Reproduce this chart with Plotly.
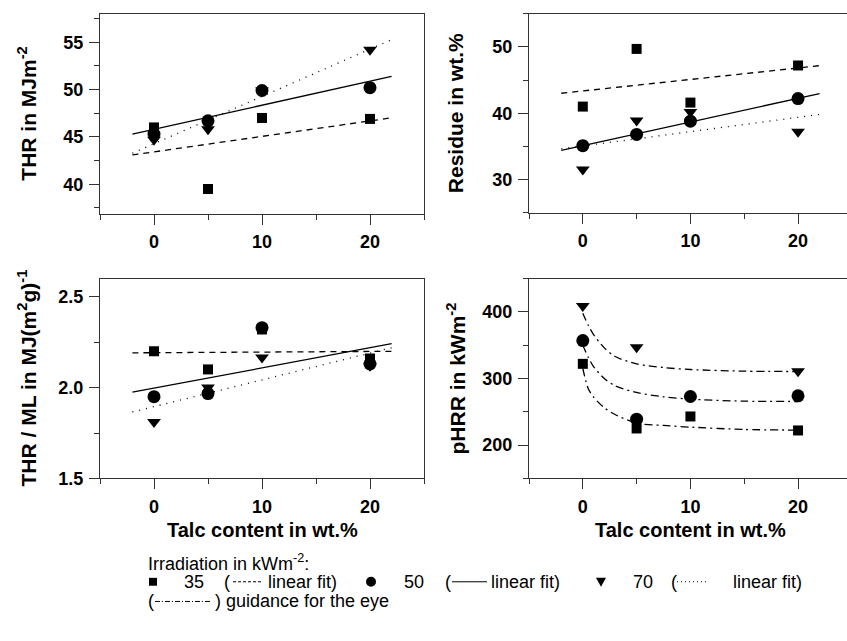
import numpy as np
import plotly.graph_objects as go

W, H = 847, 641

# ---------------- data ----------------
talc = [0, 5, 10, 20]

thr_35 = [46.0, 39.5, 47.0, 46.9]
thr_50 = [45.3, 46.7, 49.9, 50.2]
thr_70 = [44.7, 45.8, 49.9, 54.2]

res_35 = [41.0, 49.7, 41.6, 47.2]
res_50 = [35.1, 36.8, 38.8, 42.2]
res_70 = [31.5, 38.9, 40.2, 37.2]

ml_35 = [2.20, 2.10, 2.32, 2.16]
ml_50 = [1.95, 1.967, 2.33, 2.13]
ml_70 = [1.81, 2.00, 2.166, 2.12]

phrr_35 = [322, 225, 243, 222]
phrr_50 = [357, 239, 273, 274]
phrr_70 = [409, 347, None, 311]

# guidance-for-the-eye curves
guide_x = [0, 0.5, 1, 2, 3, 5, 7.5, 10, 15, 20]
guide_35 = [315, 285, 272, 256, 246, 233, 229.5, 227, 223.5, 222.5]
guide_50 = [350, 332, 318, 300, 289, 279, 272.5, 269, 266, 265.5]
guide_70 = [398, 380, 366, 346, 333, 322, 316.5, 313.5, 311, 310.5]

fit_x = [-2, 22]

# ---------------- layout helpers ----------------
def px_x(p):
    return p / W

def px_y(p):
    return 1 - p / H

panels = {
    1: dict(x0=100, x1=424, y0=14, y1=217, xr=[-5, 25], yr=[36.9, 58.0], dy=5, mdy=2.5, ymirror=True),
    2: dict(x0=529, x1=847, y0=14, y1=216, xr=[-5, 24.55], yr=[25, 55], dy=10, mdy=5, ymirror=False),
    3: dict(x0=100, x1=424, y0=283, y1=486, xr=[-5, 25], yr=[1.5, 2.6], dy=0.5, mdy=0.25, ymirror=True),
    4: dict(x0=529, x1=847, y0=283, y1=486, xr=[-5, 24.55], yr=[150, 450], dy=100, mdy=50, ymirror=False),
}

fig = go.Figure()
AX = "#333333"
tickfont = dict(family="Liberation Sans, Arial, sans-serif", size=18, color="black", weight="bold")

for k, p in panels.items():
    xa = "xaxis" if k == 1 else f"xaxis{k}"
    ya = "yaxis" if k == 1 else f"yaxis{k}"
    fig.layout[xa] = dict(
        domain=[px_x(p["x0"]), px_x(p["x1"])], range=p["xr"], anchor=f"y{'' if k == 1 else k}",
        showgrid=False, zeroline=False, showline=True, linecolor=AX, linewidth=1, mirror=True,
        ticks="outside", ticklen=10, tickcolor=AX, tickwidth=1, tick0=0, dtick=10,
        tickfont=tickfont, ticklabelstandoff=2,
        minor=dict(ticks="outside", ticklen=5, tickcolor=AX, dtick=5, tick0=0, showgrid=False),
    )
    fig.layout[ya] = dict(
        domain=[px_y(p["y1"]), px_y(p["y0"])], range=p["yr"], anchor=f"x{'' if k == 1 else k}",
        showgrid=False, zeroline=False, showline=True, linecolor=AX, linewidth=1, mirror=p["ymirror"],
        ticks="outside", ticklen=10, tickcolor=AX, tickwidth=1, tick0=0, dtick=p["dy"],
        tickfont=tickfont, ticklabelstandoff=2,
        minor=dict(ticks="outside", ticklen=5, tickcolor=AX, dtick=p["mdy"], tick0=0, showgrid=False),
    )
fig.layout.yaxis3.tickformat = ".1f"

sym = {"35": ("square", 10), "50": ("circle", 13), "70": ("triangle-down", 12)}
dash = {"35": "6px,5px", "50": "solid", "70": "1px,6px"}

def add_points(k, series):
    xs = "x" if k == 1 else f"x{k}"
    ys = "y" if k == 1 else f"y{k}"
    for name in ["70", "35", "50"]:
        vals = series[name]
        s, sz = sym[name]
        fig.add_trace(go.Scatter(x=talc, y=vals, mode="markers", xaxis=xs, yaxis=ys,
                                 marker=dict(symbol=s, size=sz, color="black", line=dict(width=0)),
                                 showlegend=False, cliponaxis=False))

def add_fits(k, series):
    xs = "x" if k == 1 else f"x{k}"
    ys = "y" if k == 1 else f"y{k}"
    for name in ["35", "50", "70"]:
        m, b = np.polyfit(talc, series[name], 1)
        fy = [m * v + b for v in fit_x]
        fig.add_trace(go.Scatter(x=fit_x, y=fy, mode="lines", xaxis=xs, yaxis=ys,
                                 line=dict(color="black", width=1.3, dash=dash[name]),
                                 showlegend=False))

s1 = {"35": thr_35, "50": thr_50, "70": thr_70}
s2 = {"35": res_35, "50": res_50, "70": res_70}
s3 = {"35": ml_35, "50": ml_50, "70": ml_70}
s4 = {"35": phrr_35, "50": phrr_50, "70": phrr_70}

add_fits(1, s1); add_points(1, s1)
add_fits(2, s2); add_points(2, s2)
add_fits(3, s3); add_points(3, s3)
for g in [guide_35, guide_50, guide_70]:
    fig.add_trace(go.Scatter(x=guide_x, y=g, mode="lines", xaxis="x4", yaxis="y4",
                             line=dict(color="black", width=1.3, dash="8px,4px,2px,4px", shape="spline", smoothing=0.8),
                             showlegend=False))
add_points(4, s4)

# ---------------- titles ----------------
tf = dict(family="Liberation Sans, Arial, sans-serif", size=21, color="black")
ann = []
def ytitle(text, xc, p):
    yc = (panels[p]["y0"] + panels[p]["y1"]) / 2
    ann.append(dict(text=f"<b>{text}</b>", x=px_x(xc), y=px_y(yc), xref="paper", yref="paper",
                    xanchor="center", yanchor="middle", textangle=-90, showarrow=False, font=tf))

ytitle("THR in MJm<sup>-2</sup>", 27, 1)
ytitle("Residue in wt.%", 455, 2)
ytitle("THR / ML in MJ(m<sup>2</sup>g)<sup>-1</sup>", 27, 3)
ytitle("pHRR in kWm<sup>-2</sup>", 456, 4)

xtf = dict(family="Liberation Sans, Arial, sans-serif", size=20, color="black")
for xc in [262, 690]:
    ann.append(dict(text="<b>Talc content in wt.%</b>", x=px_x(xc), y=px_y(538), xref="paper", yref="paper",
                    xanchor="center", yanchor="middle", showarrow=False, font=xtf))

# ---------------- legend ----------------
lf = dict(family="Liberation Sans, Arial, sans-serif", size=18, color="black")
def ltext(text, x, y):
    ann.append(dict(text=text, x=px_x(x), y=px_y(y), xref="paper", yref="paper",
                    xanchor="left", yanchor="middle", showarrow=False, font=lf))

DX = 6
L1, L2, L3 = 571, 591, 611
ltext("Irradiation in kWm<sup>-2</sup>:", 140 + DX, L1)
ltext("35", 176 + DX, L2)
ltext("(", 216 + DX, L2)
ltext("linear fit)", 260 + DX, L2)
ltext("50", 396 + DX, L2)
ltext("(", 437 + DX, L2)
ltext("linear fit)", 483 + DX, L2)
ltext("70", 625 + DX, L2)
ltext("(", 663 + DX, L2)
ltext("linear fit)", 725 + DX, L2)
ltext("(", 140 + DX, L3)
ltext(") guidance for the eye", 207 + DX, L3)

shapes = []
def lline(x0, x1, y, d):
    shapes.append(dict(type="line", xref="paper", yref="paper", x0=px_x(x0 + DX), x1=px_x(x1 + DX), y0=px_y(y), y1=px_y(y),
                       line=dict(color="black", width=1, dash=d)))
lline(227, 257, L2, "3px,2px")
lline(446, 481, L2, "solid")
lline(671, 701, L2, "1px,3px")
lline(149, 205, L3, "5px,2px,1px,2px")
# legend marker glyphs
shapes.append(dict(type="rect", xref="paper", yref="paper", x0=px_x(143 + DX), x1=px_x(151 + DX), y0=px_y(L2 - 4), y1=px_y(L2 + 4),
                   fillcolor="black", line=dict(width=0)))
shapes.append(dict(type="circle", xref="paper", yref="paper", x0=px_x(360 + DX), x1=px_x(370 + DX), y0=px_y(L2 - 5), y1=px_y(L2 + 5),
                   fillcolor="black", line=dict(width=0)))
tx, ty = 595 + DX, L2
shapes.append(dict(type="path", xref="paper", yref="paper",
                   path=f"M {px_x(tx-5)} {px_y(ty-4)} L {px_x(tx+5)} {px_y(ty-4)} L {px_x(tx)} {px_y(ty+5)} Z",
                   fillcolor="black", line=dict(width=0)))

fig.update_layout(
    width=W, height=H, margin=dict(l=0, r=0, t=0, b=0),
    paper_bgcolor="white", plot_bgcolor="white",
    annotations=ann, shapes=shapes, showlegend=False,
)

fig.write_html("out.html")
